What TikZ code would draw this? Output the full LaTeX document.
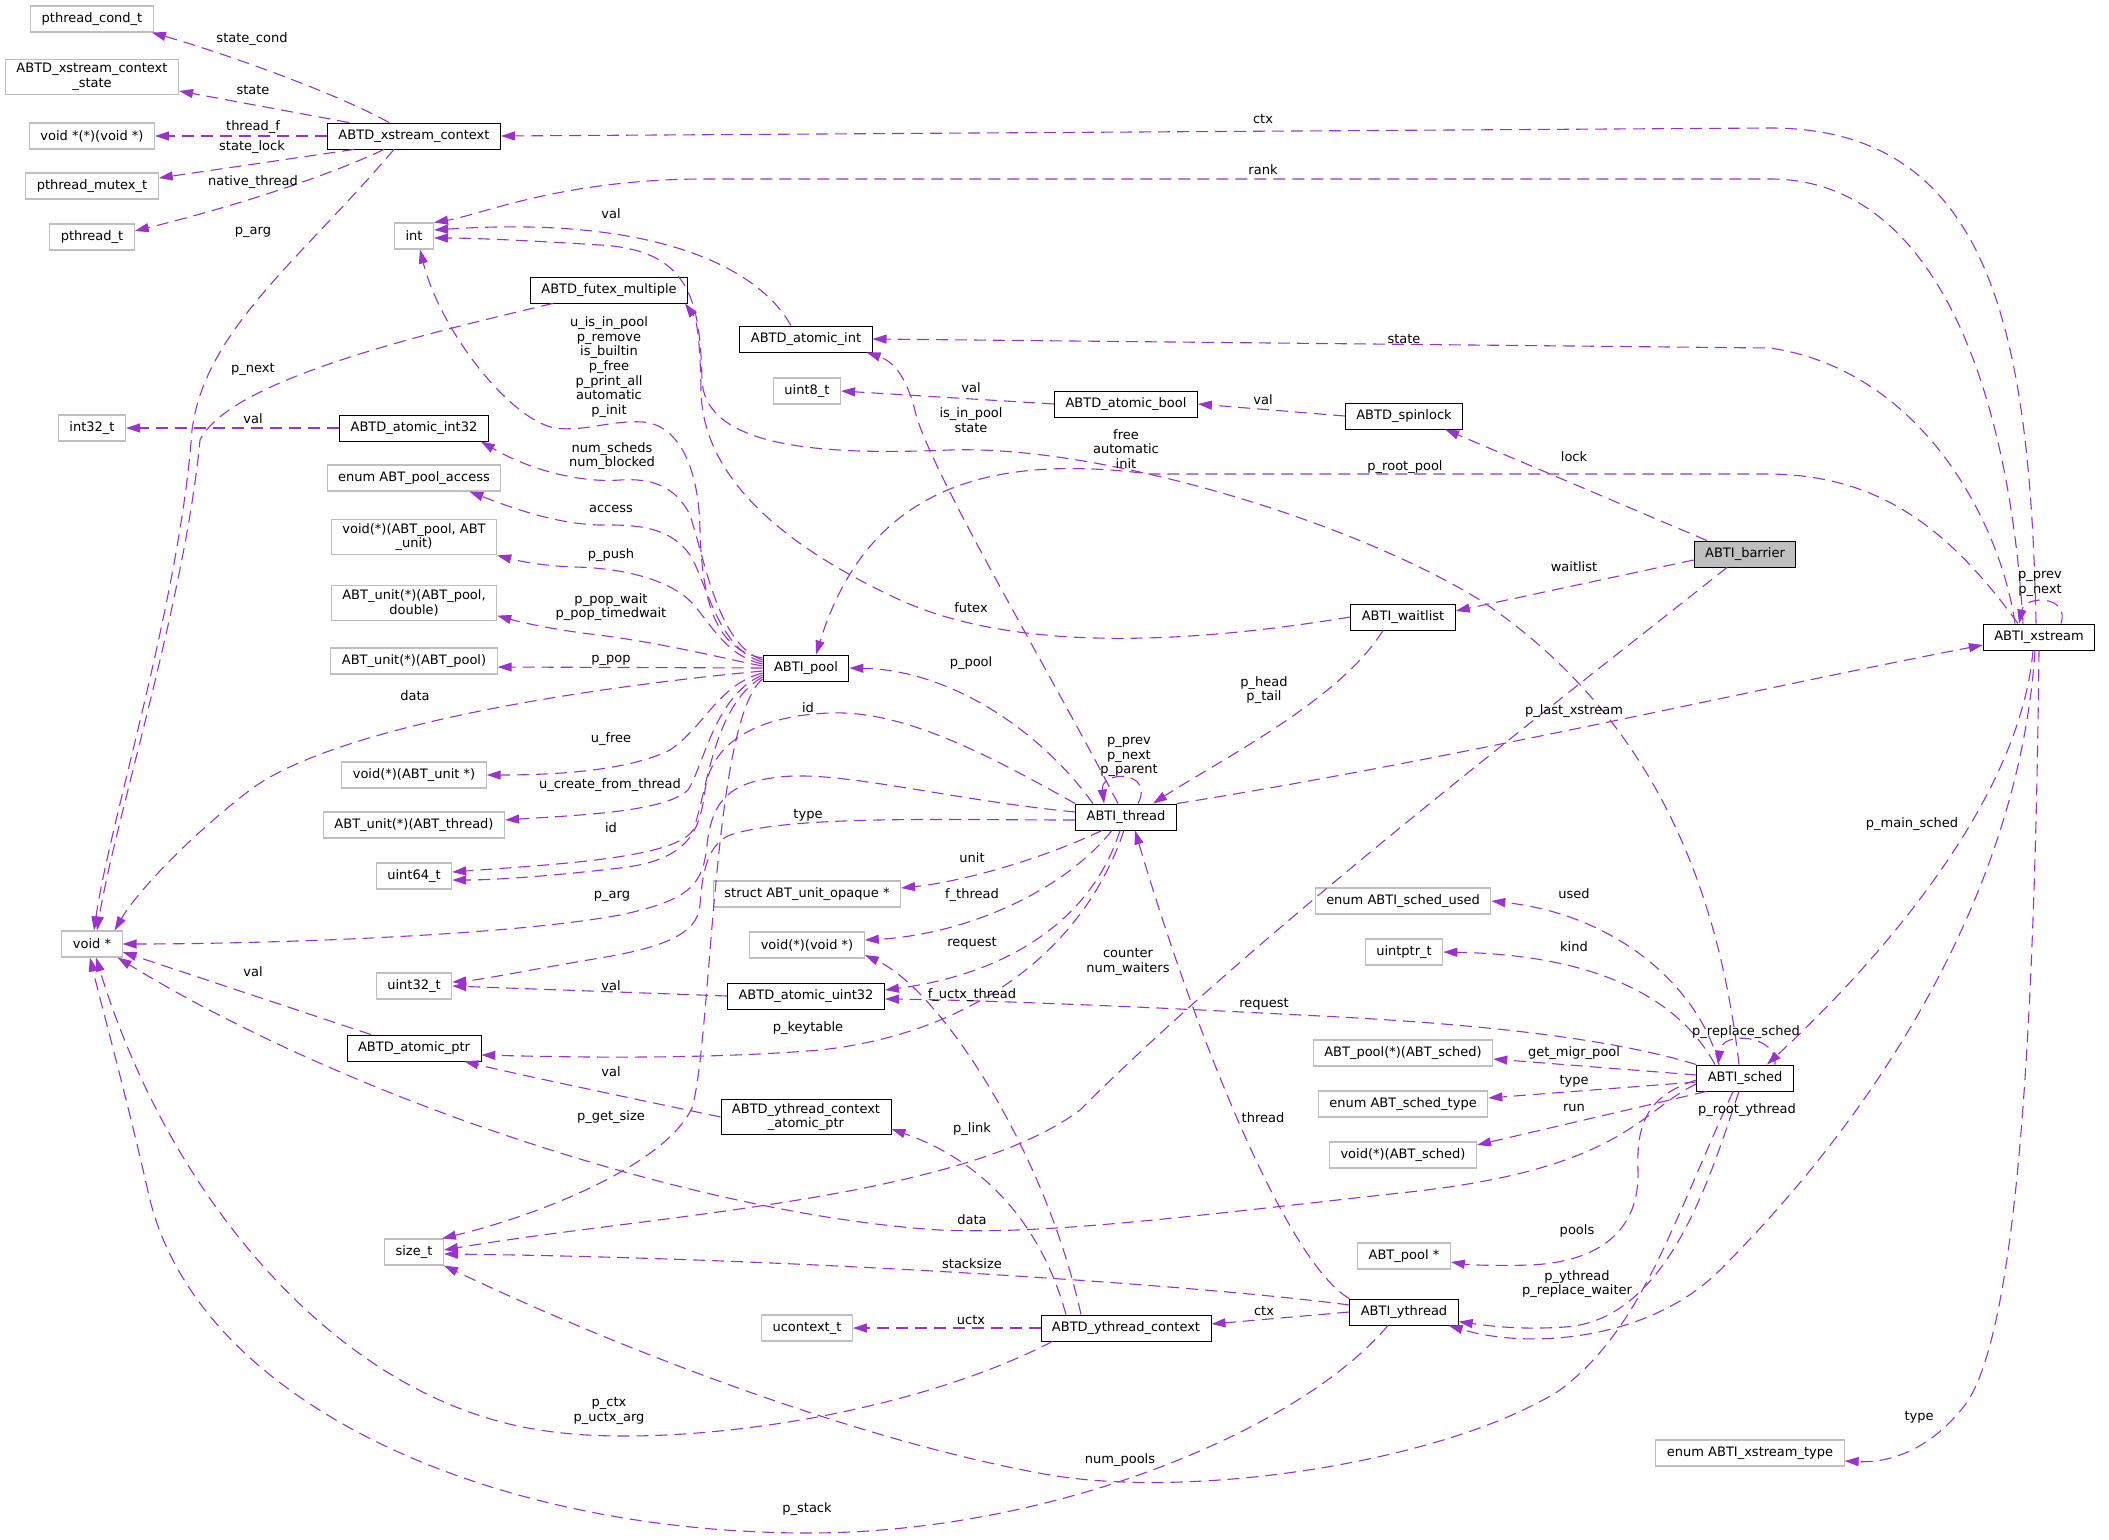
\documentclass[tikz,border=0pt]{standalone}
\usepackage{fontspec}
\setmainfont{DejaVu Sans}
\usetikzlibrary{arrows.meta}
\definecolor{edgepurple}{RGB}{154,50,205}
\definecolor{grayline}{RGB}{191,191,191}
\definecolor{barrierfill}{RGB}{191,191,191}
\newcommand\dgfont{\fontsize{13pt}{14.7pt}\selectfont}

\begin{document}
\begin{tikzpicture}[x=1pt,y=-1pt]
\tikzset{
  clsnode/.style={rectangle,draw=black,line width=0.9pt,fill=white,minimum height=26pt,inner xsep=11pt,inner ysep=4pt,align=center,font=\dgfont},
  extnode/.style={clsnode,draw=grayline,line width=1.1pt},
  usage/.style={draw=edgepurple,line width=1.1pt,dash pattern=on 12pt off 7pt,-{Triangle[length=14pt,width=9pt]}},
  elabel/.style={inner sep=0pt,align=center,font=\dgfont}
}
\path[fill=white] (0,0) rectangle (2109,1539);
\useasboundingbox (0,0) rectangle (2109,1539);
\node[extnode] (n_condt) at (92,19) {pthread\_cond\_t};
\node[extnode] (n_xcstate) at (92,77) {ABTD\_xstream\_context\\\_state};
\node[extnode] (n_threadfn) at (92,136) {void *(*)(void *)};
\node[extnode] (n_mutext) at (92,186) {pthread\_mutex\_t};
\node[extnode] (n_pthreadt) at (92,237) {pthread\_t};
\node[extnode] (n_int32t) at (92,428) {int32\_t};
\node[extnode] (n_voidp) at (92,944) {void *};
\node[clsnode] (n_xctx) at (414,136) {ABTD\_xstream\_context};
\node[extnode] (n_int) at (414,236) {int};
\node[clsnode] (n_atomicint32) at (414,428) {ABTD\_atomic\_int32};
\node[extnode] (n_poolaccess) at (414,478) {enum ABT\_pool\_access};
\node[extnode] (n_ppush) at (414,537) {void(*)(ABT\_pool, ABT\\\_unit)};
\node[extnode] (n_ppopwait) at (414,603) {ABT\_unit(*)(ABT\_pool,\\double)};
\node[extnode] (n_ppop) at (414,661) {ABT\_unit(*)(ABT\_pool)};
\node[extnode] (n_ufree) at (414,775) {void(*)(ABT\_unit *)};
\node[extnode] (n_ucreate) at (414,825) {ABT\_unit(*)(ABT\_thread)};
\node[extnode] (n_uint64) at (414,876) {uint64\_t};
\node[extnode] (n_uint32) at (414,986) {uint32\_t};
\node[clsnode] (n_atomicptr) at (414,1048) {ABTD\_atomic\_ptr};
\node[extnode] (n_sizet) at (414,1252) {size\_t};
\node[clsnode] (n_futex) at (609,290) {ABTD\_futex\_multiple};
\node[clsnode] (n_atomicint) at (806,339) {ABTD\_atomic\_int};
\node[extnode] (n_uint8) at (807,391) {uint8\_t};
\node[clsnode] (n_pool) at (806,668) {ABTI\_pool};
\node[extnode] (n_unitopaque) at (807,894) {struct ABT\_unit\_opaque *};
\node[extnode] (n_fthread) at (807,945) {void(*)(void *)};
\node[clsnode] (n_atomicuint32) at (806,996) {ABTD\_atomic\_uint32};
\node[clsnode] (n_ctxatomicptr) at (806,1117) {ABTD\_ythread\_context\\\_atomic\_ptr};
\node[extnode] (n_ucontext) at (807,1328) {ucontext\_t};
\node[clsnode] (n_atomicbool) at (1126,404) {ABTD\_atomic\_bool};
\node[clsnode] (n_thread) at (1126,817) {ABTI\_thread};
\node[clsnode] (n_yctx) at (1126,1328) {ABTD\_ythread\_context};
\node[clsnode] (n_spinlock) at (1404,416) {ABTD\_spinlock};
\node[clsnode] (n_waitlist) at (1403,617) {ABTI\_waitlist};
\node[extnode] (n_schedused) at (1403,901) {enum ABTI\_sched\_used};
\node[extnode] (n_uintptr) at (1404,952) {uintptr\_t};
\node[extnode] (n_migrpool) at (1403,1053) {ABT\_pool(*)(ABT\_sched)};
\node[extnode] (n_schedtype) at (1403,1104) {enum ABT\_sched\_type};
\node[extnode] (n_schedrun) at (1403,1155) {void(*)(ABT\_sched)};
\node[extnode] (n_poolp) at (1404,1256) {ABT\_pool *};
\node[clsnode] (n_ythread) at (1404,1312) {ABTI\_ythread};
\node[clsnode,fill=barrierfill] (n_barrier) at (1745,554) {ABTI\_barrier};
\node[clsnode] (n_sched) at (1745,1078) {ABTI\_sched};
\node[extnode] (n_xstype) at (1750,1453) {enum ABTI\_xstream\_type};
\node[clsnode] (n_xstream) at (2039,637) {ABTI\_xstream};
% ABTD_xstream_context
\draw[usage] ([xshift=-25pt]n_xctx.north) .. controls (340,95) and (230,55) .. ([xshift=-2pt]n_condt.south east);
\draw[usage] ([xshift=-65pt]n_xctx.north) -- ([yshift=-14pt]n_xcstate.east);
\draw[usage] (n_xctx.west) -- (n_threadfn.east);
\draw[usage] ([xshift=-60pt]n_xctx.south) -- ([yshift=8pt]n_mutext.east);
\draw[usage] ([xshift=-30pt]n_xctx.south) .. controls (330,175) and (240,205) .. ([yshift=6pt]n_pthreadt.east);
\draw[usage] ([xshift=-20pt]n_xctx.south) .. controls (300,260) and (205,330) .. (192,430) .. controls (180,600) and (110,820) .. ([xshift=2pt]n_voidp.north);
\draw[usage] ([xshift=-56pt]n_futex.south) .. controls (420,335) and (230,380) .. (200,440) .. controls (185,600) and (115,820) .. ([xshift=5pt]n_voidp.north);
% small atomic wrappers
\draw[usage] ([xshift=-15pt]n_atomicint.north) .. controls (760,270) and (660,215) .. ([yshift=6pt]n_int.east);
\draw[usage] (n_atomicint32.west) -- (n_int32t.east);
\draw[usage] (n_atomicbool.west) -- (n_uint8.east);
\draw[usage] (n_spinlock.west) -- (n_atomicbool.east);
\draw[usage] (n_atomicuint32.west) -- (n_uint32.east);
\draw[usage] ([xshift=-43pt]n_atomicptr.north) -- ([yshift=-8pt]n_voidp.east);
\draw[usage] (n_ctxatomicptr.west) .. controls (640,1100) and (520,1075) .. ([xshift=-17pt]n_atomicptr.south east);
% ABTI_pool
\draw[usage] ([yshift=10pt]n_pool.west) .. controls (715,650) and (702,600) .. (700,530) .. controls (699,470) and (680,425) .. (643,422) .. controls (610,420) and (585,432) .. (555,428) .. controls (510,420) and (440,330) .. ([xshift=6pt]n_int.south);
\draw[usage] ([yshift=8pt]n_pool.west) .. controls (718,645) and (705,560) .. (690,515) .. controls (675,485) and (650,478) .. (620,480) .. controls (580,483) and (530,470) .. ([xshift=-8pt]n_atomicint32.south east);
\draw[usage] ([yshift=6pt]n_pool.west) .. controls (718,650) and (706,580) .. (690,555) .. controls (672,530) and (645,525) .. (610,525) .. controls (570,526) and (530,515) .. ([xshift=-32pt]n_poolaccess.south east);
\draw[usage] ([yshift=4pt]n_pool.west) .. controls (720,655) and (705,610) .. (683,595) .. controls (660,578) and (620,568) .. (575,567) .. controls (540,566) and (515,560) .. (n_ppush.south east);
\draw[usage] ([yshift=2pt]n_pool.west) .. controls (730,660) and (660,642) .. (590,634) .. controls (550,629) and (520,622) .. ([yshift=5pt]n_ppopwait.south east);
\draw[usage] (n_pool.west) -- ([yshift=-6pt]n_ppop.east);
\draw[usage] ([yshift=-3pt]n_pool.west) .. controls (560,690) and (330,730) .. (250,790) .. controls (185,840) and (135,895) .. ([xshift=-8pt]n_voidp.north east);
\draw[usage] ([yshift=-5pt]n_pool.west) .. controls (718,685) and (706,725) .. (670,750) .. controls (630,770) and (560,775) .. (n_ufree.east);
\draw[usage] ([yshift=-7pt]n_pool.west) .. controls (715,695) and (704,765) .. (688,790) .. controls (665,812) and (580,815) .. ([yshift=5pt]n_ucreate.east);
\draw[usage] ([yshift=-9pt]n_pool.west) .. controls (712,705) and (706,800) .. (693,830) .. controls (675,858) and (560,864) .. ([yshift=4pt]n_uint64.east);
\draw[usage] ([yshift=-11pt]n_pool.west) .. controls (712,720) and (712,1040) .. (692,1108) .. controls (665,1165) and (540,1215) .. ([xshift=-2pt]n_sizet.north east);
% ABTI_thread
\draw[usage] (n_thread.north east) .. controls (1450,760) and (1750,690) .. ([yshift=-8pt]n_xstream.west);
\draw[usage] ([xshift=12pt]n_thread.north) .. controls (1155,770) and (1100,770) .. ([xshift=-22pt]n_thread.north);
\draw[usage] ([xshift=-8pt]n_thread.north) .. controls (1060,690) and (935,480) .. (916,415) .. controls (908,380) and (895,362) .. ([xshift=-6pt]n_atomicint.south east);
\draw[usage] ([xshift=-33pt]n_thread.north) .. controls (1040,730) and (950,670) .. (n_pool.east);
\draw[usage] (n_thread.north west) .. controls (980,750) and (900,710) .. (829,713) .. controls (760,716) and (712,740) .. (705,790) .. controls (700,830) and (690,860) .. (620,868) .. controls (560,875) and (500,880) .. ([yshift=-4pt]n_uint64.east);
\draw[usage] ([yshift=5pt]n_thread.west) .. controls (950,800) and (840,770) .. (780,777) .. controls (730,782) and (712,800) .. (707,845) .. controls (703,885) and (690,900) .. (620,915) .. controls (500,937) and (250,944) .. (n_voidp.east);
\draw[usage] ([yshift=-3pt]n_thread.west) .. controls (950,820) and (790,815) .. (730,835) .. controls (705,845) and (702,880) .. (700,905) .. controls (698,935) and (660,948) .. (600,958) .. controls (540,968) and (480,980) .. ([yshift=4pt]n_uint32.east);
\draw[usage] ([xshift=-24pt]n_thread.south) .. controls (1040,860) and (960,882) .. ([yshift=6pt]n_unitopaque.east);
\draw[usage] ([xshift=-14pt]n_thread.south) .. controls (1060,895) and (960,935) .. ([yshift=5pt]n_fthread.east);
\draw[usage] ([xshift=-6pt]n_thread.south) .. controls (1090,925) and (1000,975) .. ([yshift=6pt]n_atomicuint32.east);
\draw[usage] ([xshift=-2pt]n_thread.south) .. controls (1080,960) and (960,1035) .. (820,1050) .. controls (700,1060) and (560,1057) .. ([yshift=-7pt]n_atomicptr.east);
% ABTI_barrier and ABTI_waitlist
\draw[usage] ([xshift=-38pt]n_barrier.north) -- ([xshift=-18pt]n_spinlock.south east);
\draw[usage] ([yshift=-6pt]n_barrier.west) -- ([yshift=6pt]n_waitlist.east);
\draw[usage] ([xshift=-18pt]n_barrier.south) .. controls (1560,700) and (1260,930) .. (1080,1110) .. controls (960,1200) and (650,1215) .. ([yshift=2pt]n_sizet.east);
\draw[usage] ([xshift=-20pt]n_waitlist.south) .. controls (1340,700) and (1220,760) .. ([xshift=27pt]n_thread.north);
\draw[usage] (n_waitlist.west) .. controls (1150,650) and (1000,645) .. (900,600) .. controls (770,540) and (702,470) .. (701,390) .. controls (700,340) and (697,320) .. ([xshift=-3pt]n_futex.south east);
% ABTI_sched
\draw[usage] ([xshift=-26pt]n_sched.north) .. controls (1700,990) and (1620,915) .. (n_schedused.east);
\draw[usage] ([xshift=-30pt]n_sched.north) .. controls (1680,1000) and (1600,955) .. (n_uintptr.east);
\draw[usage] (n_sched.north west) .. controls (1600,1035) and (1450,1022) .. (1300,1015) .. controls (1150,1007) and (980,1000) .. ([yshift=-3pt]n_atomicuint32.east);
\draw[usage] ([yshift=3pt]n_sched.west) -- ([yshift=-6pt]n_migrpool.east);
\draw[usage] ([yshift=-4pt]n_sched.west) -- ([yshift=6pt]n_schedtype.east);
\draw[usage] ([xshift=10pt]n_sched.south west) -- ([yshift=10pt]n_schedrun.east);
\draw[usage] ([yshift=-6pt]n_sched.west) .. controls (1640,1110) and (1625,1170) .. (1400,1193) .. controls (1200,1215) and (1050,1235) .. (940,1230) .. controls (700,1215) and (350,1100) .. ([xshift=-5pt]n_voidp.south east);
\draw[usage] ([yshift=-2pt]n_sched.west) .. controls (1650,1095) and (1636,1120) .. (1638,1170) .. controls (1640,1230) and (1600,1262) .. (1530,1265) .. controls (1500,1266) and (1470,1265) .. ([yshift=-6pt]n_poolp.east);
\draw[usage] ([xshift=-6pt]n_sched.south) .. controls (1712,1170) and (1670,1320) .. (1565,1327) .. controls (1520,1330) and (1490,1326) .. (n_ythread.-10);
\draw[usage] ([xshift=-12pt]n_sched.south) .. controls (1670,1230) and (1640,1330) .. (1560,1390) .. controls (1450,1460) and (1200,1500) .. (1050,1475) .. controls (850,1440) and (600,1340) .. (n_sizet.south east);
\draw[usage] ([xshift=30pt]n_sched.north) .. controls (1778,1035) and (1722,1030) .. ([xshift=-27pt]n_sched.north);
\draw[usage] ([xshift=-6pt]n_sched.north) .. controls (1720,900) and (1660,720) .. (1480,600) .. controls (1350,520) and (1100,445) .. (950,450) .. controls (830,455) and (705,450) .. (702,380) .. controls (700,300) and (690,250) .. (600,245) .. controls (520,240) and (470,238) .. ([yshift=-2pt]n_int.east);
% ABTI_xstream
\draw[usage] ([xshift=-3pt]n_xstream.north) .. controls (2030,330) and (1990,128) .. (1770,128) -- (n_xctx.east);
\draw[usage] ([xshift=-16pt]n_xstream.north) .. controls (2010,400) and (1940,179) .. (1770,179) -- (700,179) .. controls (560,180) and (480,215) .. (n_int.north east);
\draw[usage] ([xshift=-24pt]n_xstream.north) .. controls (2000,520) and (1920,370) .. (1770,348) -- (n_atomicint.east);
\draw[usage] ([xshift=-21pt]n_xstream.north) .. controls (1950,530) and (1880,474) .. (1766,474) -- (1150,474) .. controls (1000,455) and (870,480) .. ([xshift=10pt]n_pool.north);
\draw[usage] ([xshift=-6pt]n_xstream.south) .. controls (2020,800) and (1880,960) .. ([xshift=22pt]n_sched.north);
\draw[usage] ([xshift=-4pt]n_xstream.south) .. controls (2020,880) and (1890,1100) .. (1720,1270) .. controls (1650,1340) and (1530,1350) .. ([xshift=-10pt]n_ythread.south east);
\draw[usage] (n_xstream.south) .. controls (2035,1000) and (2020,1330) .. (1965,1405) .. controls (1930,1450) and (1890,1463) .. ([yshift=-8pt]n_xstype.east);
\draw[usage] ([xshift=22pt]n_xstream.north) .. controls (2070,595) and (2025,595) .. ([xshift=-20pt]n_xstream.north);
% ABTI_ythread and ABTD_ythread_context
\draw[usage] (n_ythread.north west) .. controls (1290,1265) and (1200,1050) .. ([xshift=9pt]n_thread.south);
\draw[usage] (n_ythread.west) -- ([yshift=4pt]n_yctx.east);
\draw[usage] ([yshift=7pt]n_ythread.west) .. controls (1200,1285) and (800,1258) .. ([yshift=-2pt]n_sizet.east);
\draw[usage] ([xshift=-16pt]n_ythread.south) .. controls (1300,1430) and (1050,1535) .. (800,1533) .. controls (480,1530) and (200,1400) .. (150,1200) .. controls (125,1090) and (100,1000) .. ([xshift=-2pt]n_voidp.south);
\draw[usage] (n_yctx.west) -- (n_ucontext.east);
\draw[usage] ([xshift=12pt]n_yctx.south west) .. controls (900,1420) and (660,1450) .. (540,1430) .. controls (340,1400) and (170,1200) .. ([xshift=4pt]n_voidp.south);
\draw[usage] ([xshift=-45pt]n_yctx.north) .. controls (1045,1150) and (940,990) .. ([yshift=-10pt]n_fthread.east);
\draw[usage] ([xshift=-60pt]n_yctx.north) .. controls (1040,1220) and (980,1160) .. ([yshift=-12pt]n_ctxatomicptr.east);
% member names
\node[elabel] (lb_statecond) at (252,39) {state\_cond};
\node[elabel] (lb_xcstate) at (253,90) {state};
\node[elabel] (lb_threadf) at (253,127) {thread\_f};
\node[elabel] (lb_statelock) at (252,147) {state\_lock};
\node[elabel] (lb_native) at (253,182) {native\_thread};
\node[elabel] (lb_xcparg) at (253,232) {p\_arg};
\node[elabel] (lb_pnext) at (253,369) {p\_next};
\node[elabel] (lb_i32val) at (253,419) {val};
\node[elabel] (lb_ptrval) at (253,972) {val};
\node[elabel] (lb_intval) at (611,214) {val};
\node[elabel] (lb_poolint) at (609,367) {u\_is\_in\_pool\\p\_remove\\is\_builtin\\p\_free\\p\_print\_all\\automatic\\p\_init};
\node[elabel] (lb_nsched) at (612,456) {num\_scheds\\num\_blocked};
\node[elabel] (lb_access) at (611,509) {access};
\node[elabel] (lb_push) at (611,555) {p\_push};
\node[elabel] (lb_popwait) at (611,607) {p\_pop\_wait\\p\_pop\_timedwait};
\node[elabel] (lb_pop) at (611,660) {p\_pop};
\node[elabel] (lb_pooldata) at (415,696) {data};
\node[elabel] (lb_ufree) at (611,739) {u\_free};
\node[elabel] (lb_ucreate) at (610,785) {u\_create\_from\_thread};
\node[elabel] (lb_poolid) at (611,828) {id};
\node[elabel] (lb_thparg) at (612,896) {p\_arg};
\node[elabel] (lb_u32val) at (611,986) {val};
\node[elabel] (lb_cptrval) at (611,1072) {val};
\node[elabel] (lb_getsize) at (611,1117) {p\_get\_size};
\node[elabel] (lb_pctx) at (609,1411) {p\_ctx\\p\_uctx\_arg};
\node[elabel] (lb_thid) at (808,708) {id};
\node[elabel] (lb_thtype) at (808,815) {type};
\node[elabel] (lb_keytable) at (808,1028) {p\_keytable};
\node[elabel] (lb_pstack) at (807,1509) {p\_stack};
\node[elabel] (lb_boolval) at (971,388) {val};
\node[elabel] (lb_inpool) at (971,420) {is\_in\_pool\\state};
\node[elabel] (lb_futex) at (971,608) {futex};
\node[elabel] (lb_ppool) at (971,663) {p\_pool};
\node[elabel] (lb_unit) at (972,858) {unit};
\node[elabel] (lb_fthread) at (972,895) {f\_thread};
\node[elabel] (lb_threq) at (972,943) {request};
\node[elabel] (lb_fuctx) at (972,995) {f\_uctx\_thread};
\node[elabel] (lb_plink) at (972,1129) {p\_link};
\node[elabel] (lb_scdata) at (972,1220) {data};
\node[elabel] (lb_stacksize) at (972,1264) {stacksize};
\node[elabel] (lb_uctx) at (971,1320) {uctx};
\node[elabel] (lb_schint) at (1126,449) {free\\automatic\\init};
\node[elabel] (lb_thself) at (1129,757) {p\_prev\\p\_next\\p\_parent};
\node[elabel] (lb_counter) at (1128,962) {counter\\num\_waiters};
\node[elabel] (lb_numpools) at (1120,1460) {num\_pools};
\node[elabel] (lb_ctx) at (1263,119) {ctx};
\node[elabel] (lb_rank) at (1263,170) {rank};
\node[elabel] (lb_slval) at (1263,400) {val};
\node[elabel] (lb_phead) at (1264,690) {p\_head\\p\_tail};
\node[elabel] (lb_screq) at (1264,1004) {request};
\node[elabel] (lb_ythth) at (1263,1118) {thread};
\node[elabel] (lb_ythctx) at (1264,1311) {ctx};
\node[elabel] (lb_state) at (1404,339) {state};
\node[elabel] (lb_rootpool) at (1405,467) {p\_root\_pool};
\node[elabel] (lb_lock) at (1574,457) {lock};
\node[elabel] (lb_waitlist) at (1574,567) {waitlist};
\node[elabel] (lb_lastxs) at (1574,711) {p\_last\_xstream};
\node[elabel] (lb_used) at (1574,894) {used};
\node[elabel] (lb_kind) at (1574,947) {kind};
\node[elabel] (lb_migr) at (1574,1053) {get\_migr\_pool};
\node[elabel] (lb_sctype) at (1574,1081) {type};
\node[elabel] (lb_run) at (1574,1108) {run};
\node[elabel] (lb_pools) at (1577,1231) {pools};
\node[elabel] (lb_pyth) at (1577,1284) {p\_ythread\\p\_replace\_waiter};
\node[elabel] (lb_replace) at (1746,1032) {p\_replace\_sched};
\node[elabel] (lb_rootyth) at (1747,1110) {p\_root\_ythread};
\node[elabel] (lb_mainsched) at (1912,824) {p\_main\_sched};
\node[elabel] (lb_xstype) at (1919,1417) {type};
\node[elabel] (lb_xsself) at (2040,584) {p\_prev\\p\_next};
\end{tikzpicture}
\end{document}
